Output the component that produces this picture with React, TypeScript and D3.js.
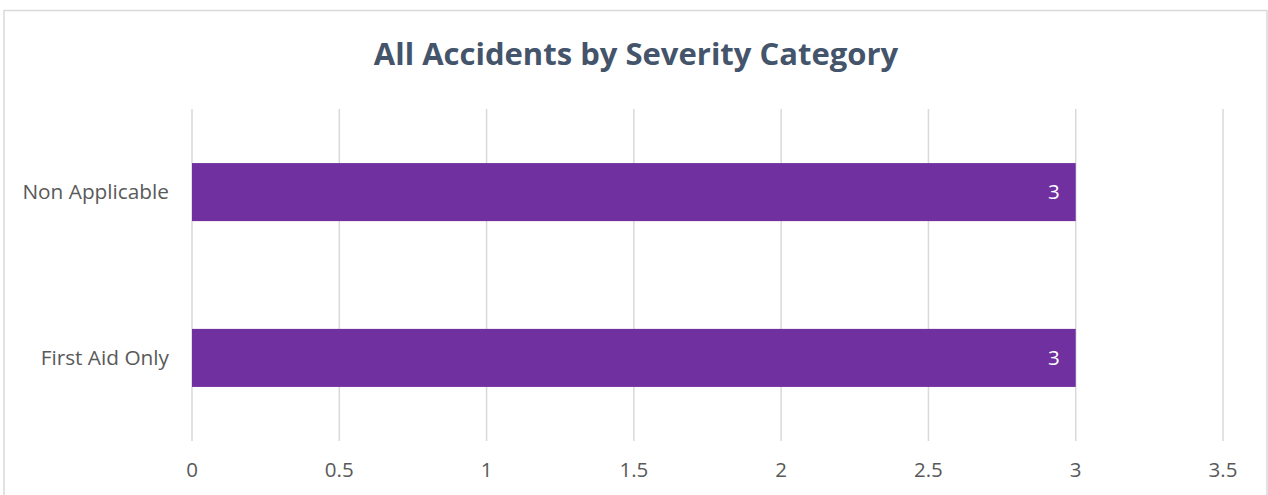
import React from "react";
import * as d3 from "d3";

const categories = ["Non Applicable", "First Aid Only"];
const values = [3, 3];
const xTicks = [0, 0.5, 1, 1.5, 2, 2.5, 3, 3.5];
const title = "All Accidents by Severity Category";

const W = 1268;
const H = 495;
const FONT = "'Open Sans', 'Noto Sans', sans-serif";

export default function App() {
  const x = d3.scaleLinear().domain([0, 3.5]).range([192, 1223]);
  const y = d3.scaleBand().domain(categories).range([110, 440]).paddingInner(0.65).paddingOuter(0.32);

  return (
    <svg width={W} height={H} style={{ position: "absolute", left: 0, top: 0 }}>
      <rect x={0} y={0} width={W} height={H} fill="#fff" />
      <rect x={4} y={10.5} width={1263} height={500} fill="#fff" stroke="#d9d9d9" strokeWidth={1.5} />
      <text x={636} y={57} textAnchor="middle" dominantBaseline="middle" fontFamily={FONT} fontWeight={700} fontSize={31} fill="#44546A">
        {title}
      </text>
      {xTicks.map((t) => (
        <g key={t}>
          <line x1={x(t)} x2={x(t)} y1={109} y2={441} stroke="#d9d9d9" strokeWidth={1.5} />
          <text x={x(t)} y={472} textAnchor="middle" dominantBaseline="middle" fontFamily={FONT} fontSize={20.5} fill="#595959">
            {t}
          </text>
        </g>
      ))}
      {categories.map((c, i) => {
        const by = y(c)!;
        const bh = y.bandwidth();
        return (
          <g key={c}>
            <rect x={x(0)} y={by} width={x(values[i]) - x(0)} height={bh} fill="#7030A0" />
            <text x={169} y={by + bh / 2 + 1.5} textAnchor="end" dominantBaseline="middle" fontFamily={FONT} fontSize={20.8} fill="#595959">
              {c}
            </text>
            <text x={x(values[i]) - 16} y={by + bh / 2 + 1.5} textAnchor="end" dominantBaseline="middle" fontFamily={FONT} fontSize={20.5} fill="#fff">
              {values[i]}
            </text>
          </g>
        );
      })}
    </svg>
  );
}
